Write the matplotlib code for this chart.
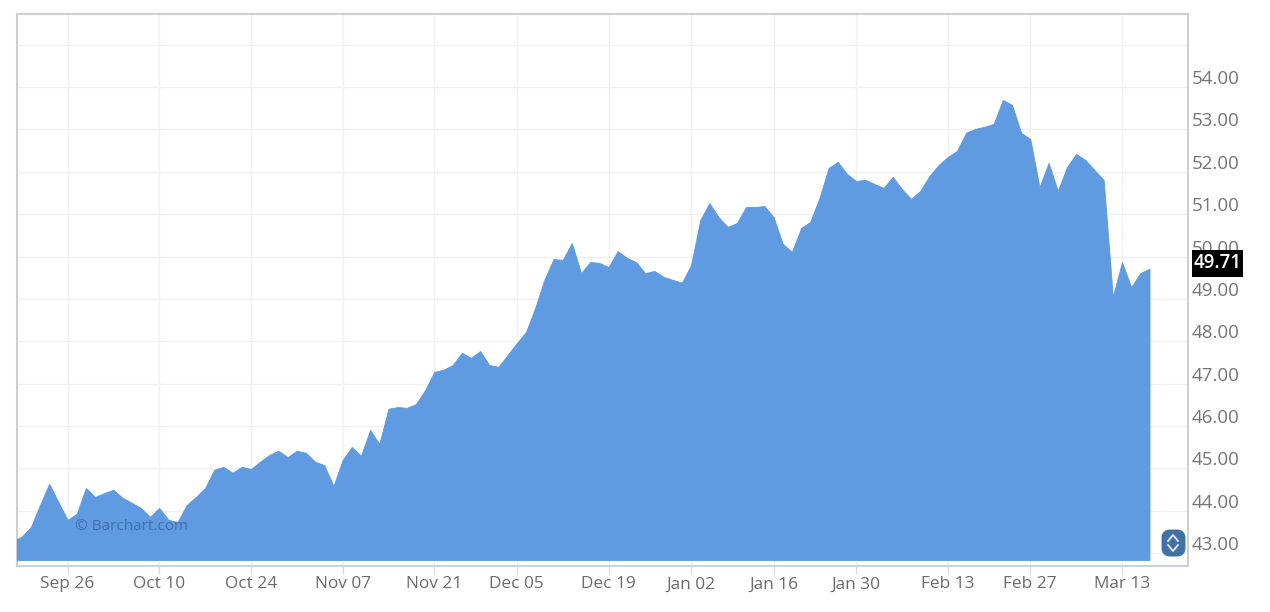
#!/usr/bin/env python3
# -*- coding: utf-8 -*-
"""
Area chart of a daily price, Barchart style.
"""

import numpy as np
import matplotlib
matplotlib.use("Agg")
import matplotlib.pyplot as plt
from matplotlib.lines import Line2D
from matplotlib.patches import FancyBboxPatch, Rectangle
from matplotlib.transforms import ScaledTranslation

plt.rcParams['font.family'] = ['Open Sans', 'DejaVu Sans']

# || Data, one close per trading day
closes = [
    43.29, 43.39, 43.62, 44.14, 44.64, 44.21, 43.79, 43.93, 44.54, 44.33,
    44.42, 44.50, 44.31, 44.19, 44.07, 43.86, 44.07, 43.79, 43.74, 44.14,
    44.33, 44.54, 44.97, 45.04, 44.90, 45.04, 44.99, 45.16, 45.32, 45.42,
    45.27, 45.42, 45.37, 45.16, 45.08, 44.59, 45.20, 45.51, 45.30, 45.91,
    45.58, 46.41, 46.45, 46.43, 46.52, 46.85, 47.28, 47.33, 47.44, 47.73,
    47.61, 47.77, 47.44, 47.40, 47.68, 47.96, 48.22, 48.79, 49.45, 49.94,
    49.92, 50.32, 49.61, 49.87, 49.85, 49.75, 50.13, 49.97, 49.87, 49.61,
    49.66, 49.52, 49.45, 49.38, 49.80, 50.86, 51.26, 50.93, 50.70, 50.79,
    51.17, 51.17, 51.19, 50.93, 50.30, 50.11, 50.67, 50.82, 51.38, 52.09,
    52.23, 51.95, 51.78, 51.81, 51.71, 51.62, 51.88, 51.59, 51.36, 51.55,
    51.90, 52.16, 52.35, 52.49, 52.92, 53.01, 53.06, 53.13, 53.69, 53.58,
    52.92, 52.77, 51.64, 52.21, 51.55, 52.11, 52.42, 52.28, 52.04, 51.81,
    49.05, 49.87, 49.28, 49.61, 49.71,
]
date_ticks = [6, 16, 26, 36, 46, 55, 65, 74, 83, 92, 102, 111, 121]
date_labels = ['Sep 26', 'Oct 10', 'Oct 24', 'Nov 07', 'Nov 21', 'Dec 05', 'Dec 19',
               'Jan 02', 'Jan 16', 'Jan 30', 'Feb 13', 'Feb 27', 'Mar 13']
price_ticks = [43, 44, 45, 46, 47, 48, 49, 50, 51, 52, 53, 54]
grid_only = 55
last_price = 49.71
baseline = 42.84

W, H = 1270, 612

fig = plt.figure(figsize=(W / 100, H / 100), dpi=100)
ax = fig.add_axes([17 / W, 1 - 566 / H, (1188 - 17) / W, (566 - 14) / H])

x = np.arange(len(closes))
ax.fill_between(x, baseline, closes, color='#5b97df', alpha=0.97, lw=0.6, zorder=3)

ax.set_xlim(0.49, 128.2)
ax.set_ylim(42.70, 55.72)

# || Grid and axes
ax.set_xticks(date_ticks)
ax.set_xticklabels(date_labels)
ax.set_yticks(price_ticks + [grid_only])
ax.set_yticklabels([f'{p:.2f}' for p in price_ticks] + [''])
ax.yaxis.tick_right()
ax.grid(True, color='#f0f0f0', lw=1.0, zorder=0)
ax.set_axisbelow(True)
ax.tick_params(axis='y', length=0, pad=2.5, labelsize=13.5, labelcolor='#757575')
ax.tick_params(axis='x', length=5.5, width=1, color='#d5dbe6', pad=2,
               labelsize=12.4, labelcolor='#6b6b6b')

# the price labels sit above their gridlines
up = ScaledTranslation(0, 10 / 100, fig.dpi_scale_trans)
for lab in ax.get_yticklabels():
    lab.set_transform(lab.get_transform() + up)

for side in ['top', 'left', 'right']:
    ax.spines[side].set_color('#cfcfcf')
    ax.spines[side].set_linewidth(1.5)
ax.spines['bottom'].set_color('#c9d1de')
ax.spines['bottom'].set_linewidth(1.5)

# || Last price badge
fig.add_artist(Rectangle((1192 / W, 1 - 277 / H), 51 / W, 27 / H,
                         transform=fig.transFigure, fc='black', ec='none', zorder=6))
fig.text(1217.5 / W, 1 - 263 / H, f'{last_price:.2f}', color='white', fontsize=13.4,
         fontweight='semibold', ha='center', va='center', zorder=7)

# || Watermark
fig.text(75 / W, 1 - 526 / H, '© Barchart.com', color='#3f70ad', fontsize=11,
         ha='left', va='center', zorder=5)

# || Scale button
fig.add_artist(FancyBboxPatch((1165 / W, 1 - 553 / H), 17 / W, 20 / H,
                              boxstyle='round,pad=0,rounding_size=0.004',
                              transform=fig.transFigure, fc='#3f73a6', ec='#3f73a6', lw=5,
                              mutation_aspect=2))
for y0, y1 in [(541, 535), (545, 551)]:
    fig.add_artist(Line2D([1168 / W, 1173 / W, 1178 / W],
                          [1 - y0 / H, 1 - y1 / H, 1 - y0 / H],
                          color='white', lw=1.3, alpha=0.85))

fig.savefig('out.png', dpi=100)
